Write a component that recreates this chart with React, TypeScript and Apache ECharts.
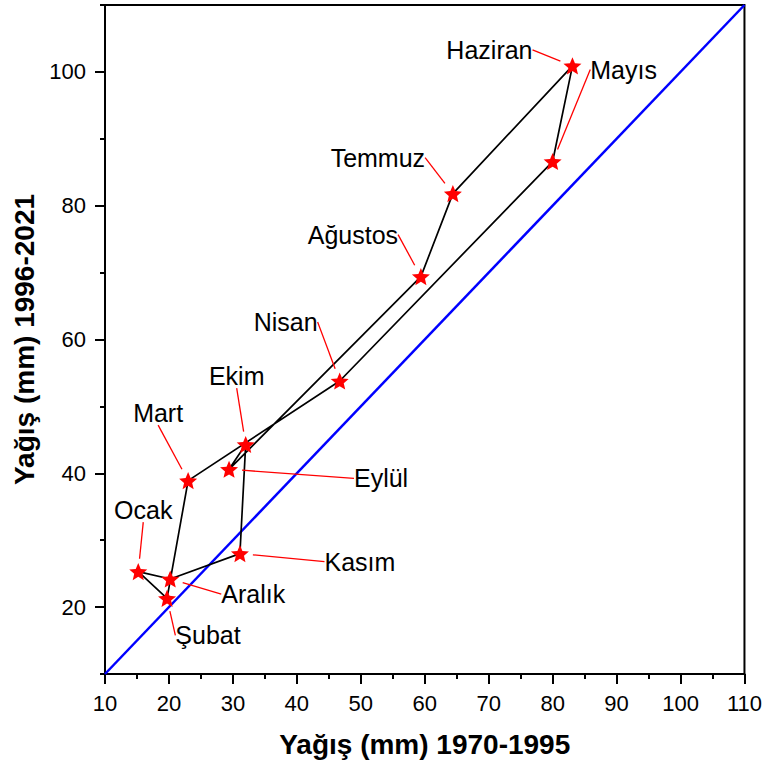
import React, { useEffect, useRef } from "react";
import * as echarts from "echarts";

const months = ["Ocak", "Şubat", "Mart", "Nisan", "Mayıs", "Haziran", "Temmuz", "Ağustos", "Eylül", "Ekim", "Kasım", "Aralık"];
const rain1970_1995 = [15.2, 19.7, 23.0, 46.7, 80.0, 83.1, 64.4, 59.4, 29.4, 32.0, 31.1, 20.2];
const rain1996_2021 = [25.3, 21.3, 38.9, 53.8, 86.6, 100.9, 81.8, 69.4, 40.6, 44.3, 28.0, 24.2];
const equalLine = [10, 110];
const yMajorTicks = [20, 40, 60, 80, 100];

// label offsets in pixels (label centre relative to point)
const labelOffsets: number[][] = [
  [5, -62], [41, 37], [-30, -68], [-54, -59], [71, -92], [-83, -16],
  [-75, -36], [-68, -42], [152, 9], [-9, -69], [120, 8], [83, 15],
];

const FONT = 'Arial, "Liberation Sans", sans-serif';
const STAR =
  "path://M0,-10L2.645,-3.641L9.511,-3.09L4.28,1.391L5.878,8.09L0,4.5L-5.878,8.09L-4.28,1.391L-9.511,-3.09L-2.645,-3.641Z";

export default function App() {
  const ref = useRef<HTMLDivElement>(null);
  useEffect(() => {
    document.body.style.margin = "0";
    const chart = echarts.init(ref.current!, undefined, { renderer: "svg" });
    const points = months.map((m, i) => [rain1970_1995[i], rain1996_2021[i]]);
    const loop = [...points, points[0]];
    chart.setOption({
      animation: false,
      backgroundColor: "#fff",
      grid: {
        left: 105, right: 20, top: 5, bottom: 93,
        show: true, borderColor: "#000", borderWidth: 2, backgroundColor: "transparent",
      },
      xAxis: {
        type: "value", min: 10, max: 110, interval: 10,
        name: "Yağış (mm) 1970-1995", nameLocation: "middle", nameGap: 56,
        nameTextStyle: { fontFamily: FONT, fontSize: 28, fontWeight: "bold", color: "#000" },
        axisLine: { show: true, lineStyle: { color: "#000", width: 2 } },
        axisTick: { show: true, inside: false, length: 10, lineStyle: { color: "#000", width: 2 } },
        minorTick: { show: true, splitNumber: 2, length: 5, lineStyle: { color: "#000", width: 2 } },
        axisLabel: { fontFamily: FONT, fontSize: 22, color: "#000", margin: 18 },
        splitLine: { show: false },
      },
      yAxis: [
        {
          type: "value", min: 10, max: 110, interval: 10, position: "left",
          axisLine: { show: true, lineStyle: { color: "#000", width: 2 } },
          axisTick: { show: true, inside: false, length: 5, lineStyle: { color: "#000", width: 2 } },
          axisLabel: { show: false },
          splitLine: { show: false },
        },
        {
          type: "value", min: 10, max: 110, position: "left",
          name: "Yağış (mm) 1996-2021", nameLocation: "middle", nameGap: 64, nameRotate: 90,
          nameTextStyle: { fontFamily: FONT, fontSize: 28, fontWeight: "bold", color: "#000" },
          axisLine: { show: false },
          axisTick: {
            show: true, inside: false, length: 10, customValues: yMajorTicks,
            lineStyle: { color: "#000", width: 2 },
          },
          axisLabel: { fontFamily: FONT, fontSize: 22, color: "#000", margin: 19, customValues: yMajorTicks },
          splitLine: { show: false },
        },
      ],
      series: [
        {
          type: "line", data: [[equalLine[0], equalLine[0]], [equalLine[1], equalLine[1]]],
          symbol: "none", lineStyle: { color: "#0000ff", width: 2.5 }, z: 1, silent: true,
        },
        {
          type: "line", data: loop, symbol: "none",
          lineStyle: { color: "#000", width: 1.7 }, z: 2, silent: true,
        },
        {
          type: "scatter", data: points, symbol: STAR, symbolSize: 18, symbolKeepAspect: true,
          itemStyle: { color: "#ff0000", opacity: 1 }, z: 3, silent: true,
        },
        {
          type: "scatter",
          data: points.map((p, i) => ({ value: p, name: months[i] })),
          symbol: "circle", symbolSize: 26,
          itemStyle: { color: "rgba(0,0,0,0)", opacity: 1 },
          z: 4, silent: true,
          label: {
            show: true, position: "inside", formatter: "{b}",
            fontFamily: FONT, fontSize: 25, color: "#000", textBorderWidth: 0,
            padding: [2, 3, 2, 3],
          },
          labelLine: { show: true, length2: 0, lineStyle: { color: "#ff0000", width: 1.3, opacity: 1 } },
          labelLayout: (params: any) => ({
            dx: labelOffsets[params.dataIndex][0],
            dy: labelOffsets[params.dataIndex][1],
          }),
        },
      ],
    });
    return () => chart.dispose();
  }, []);
  return <div ref={ref} style={{ width: 765, height: 767 }} />;
}
